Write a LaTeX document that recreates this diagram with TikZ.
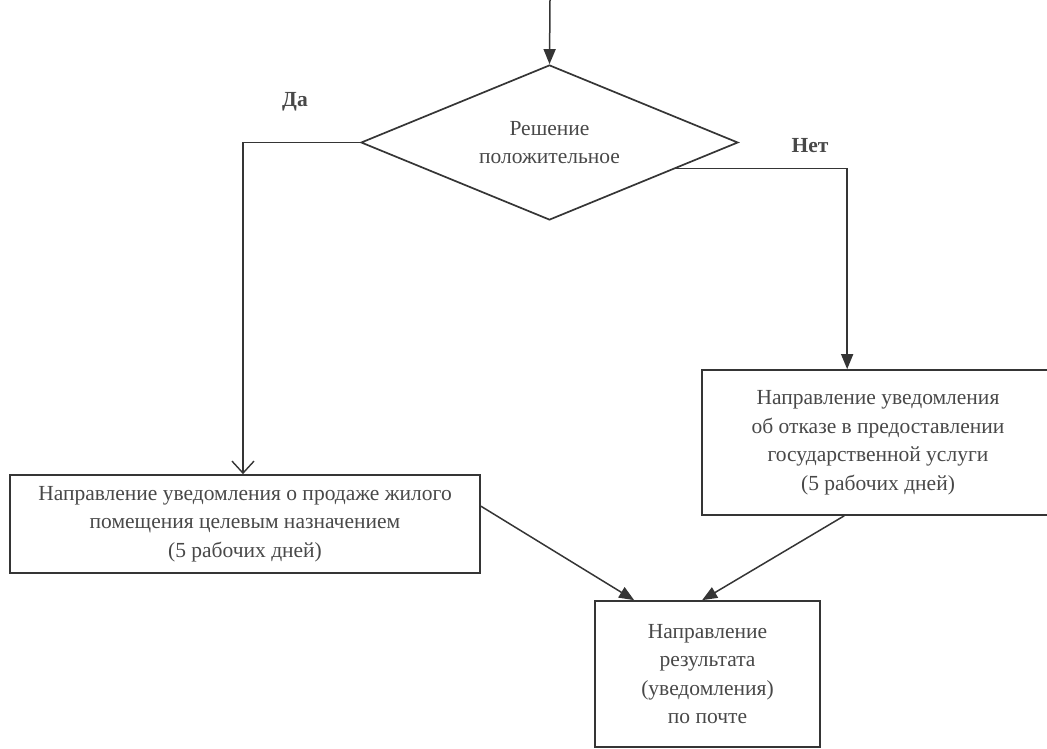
\documentclass[tikz,border=0pt]{standalone}
\usepackage{fontspec}
\setmainfont{Liberation Serif}
\usetikzlibrary{shapes.geometric,arrows.meta,calc}
\definecolor{ink}{HTML}{353535}
\definecolor{txt}{HTML}{484848}
\begin{document}
\begin{tikzpicture}[x=1pt,y=-1pt,
  every node/.style={text=txt,font=\fontsize{21.5}{28.5}\selectfont},
  box/.style={draw=ink,line width=1.7pt,rectangle,align=center,inner sep=0pt},
  cond/.style={draw=ink,line width=1.7pt,diamond,aspect=2.4,inner sep=0pt,
    minimum width=377pt,minimum height=155pt,align=center},
  conn/.style={draw=ink,line width=1.5pt},
  fill tip/.style={-{Triangle[length=15pt,width=12pt]}},
  open tip/.style={-{Straight Barb[length=12pt,width=22pt,line width=1.4pt]}},
  lab/.style={font=\bfseries\fontsize{21.5}{26}\selectfont}
]
\useasboundingbox (0,0) rectangle (1047,749);
\clip (0,0) rectangle (1047,749);
\coordinate (start) at (550,0);
\node[cond] (d) at (549.5,142.5) {Решение\\положительное};
\node[box,minimum width=470pt,minimum height=98pt] (lbox) at (245,524)
  {Направление уведомления о продаже жилого\\помещения целевым назначением\\(5 рабочих дней)};
\node[box,minimum width=352pt,minimum height=145pt] (rbox) at (878,442.5)
  {Направление уведомления\\об отказе в предоставлении\\государственной услуги\\(5 рабочих дней)};
\node[box,minimum width=225pt,minimum height=146pt] (bbox) at (707.5,674)
  {Направление\\результата\\(уведомления)\\по почте};
\node[lab] (da) at (295,102) {Да};
\node[lab] (net) at (810,146) {Нет};
\coordinate (rout) at ($(d.east)!0.33!(d.south)$);
\coordinate (rin) at ($(rbox.north west)+(146,0)$);
\coordinate (lin) at ($(lbox.north)+(-2,0)$);
\coordinate (lfrom) at ($(lbox.north east)+(0,32)$);
\coordinate (rfrom) at ($(rbox.south west)+(143,0)$);
\coordinate (bl) at ($(bbox.north west)+(40,0)$);
\coordinate (br) at ($(bbox.north west)+(108,0)$);
\draw[conn,fill tip] (start) -- (d.north);
\draw[conn,open tip] (d.west) -| (lin);
\draw[conn,fill tip] (rout) -| (rin);
\draw[conn,fill tip] (lfrom) -- (bl);
\draw[conn,fill tip] (rfrom) -- (br);
\end{tikzpicture}
\end{document}
